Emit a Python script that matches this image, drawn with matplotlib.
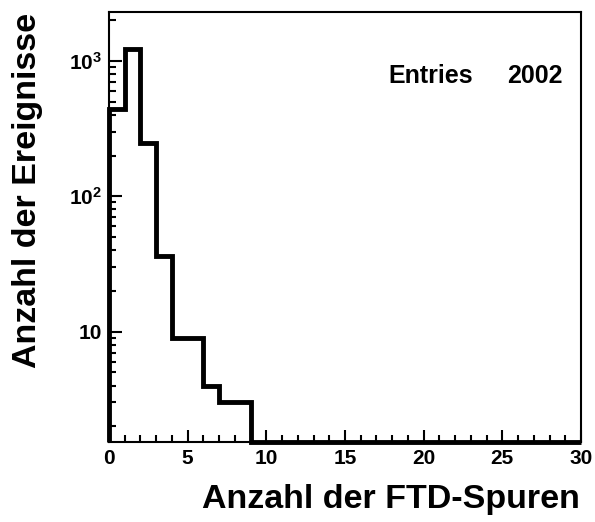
import numpy as np
import matplotlib
matplotlib.use('Agg')
import matplotlib.pyplot as plt
from matplotlib.ticker import FixedLocator, LogLocator, MultipleLocator, NullFormatter

plt.rcParams['font.family'] = 'Liberation Sans'
plt.rcParams['font.weight'] = 'bold'
plt.rcParams['mathtext.fontset'] = 'custom'
plt.rcParams['mathtext.rm'] = 'Liberation Sans:bold'
plt.rcParams['mathtext.bf'] = 'Liberation Sans:bold'
plt.rcParams['mathtext.default'] = 'rm'

# histogram: number of FTD tracks per event
bin_edges = np.arange(0, 31, 1)
counts = [440, 1225, 248, 36, 9, 9, 4, 3, 3] + [0] * 21
entries = 2002

y_min, y_max = 1.53, 2300
y_major = [10, 100, 1000]
y_labels = ['10', r'$10^{2}$', r'$10^{3}$']

fig = plt.figure(figsize=(5.95, 5.22), dpi=100)
ax = fig.add_axes([109 / 595, 1 - 442 / 522, (581 - 109) / 595, (442 - 12) / 522])

# ROOT draws empty bins along the lower frame edge
draw = np.maximum(np.array(counts, dtype=float), y_min)
ax.stairs(draw, bin_edges, baseline=y_min, color='black', linewidth=3.5, clip_on=False, zorder=3)

ax.set_yscale('log')
ax.set_xlim(0, 30)
ax.set_ylim(y_min, y_max)

ax.yaxis.set_major_locator(FixedLocator(y_major))
ax.set_yticklabels(y_labels)
ax.yaxis.set_minor_locator(LogLocator(base=10, subs=np.arange(2, 10)))
ax.yaxis.set_minor_formatter(NullFormatter())
ax.xaxis.set_major_locator(MultipleLocator(5))
ax.xaxis.set_minor_locator(MultipleLocator(1))

ax.tick_params(which='both', direction='in', top=False, right=False, width=1.5, labelsize=15)
ax.tick_params(which='major', length=9, pad=5)
ax.tick_params(which='minor', length=5)
for sp in ax.spines.values():
    sp.set_linewidth(1.5)

fig.text(388 / 595, 1 - 76 / 522, 'Entries', ha='left', va='center', fontsize=18, fontweight='bold')
fig.text(563 / 595, 1 - 76 / 522, f'{entries}', ha='right', va='center', fontsize=18, fontweight='bold')

fig.text(580 / 595, 1 - 508 / 522, 'Anzahl der FTD-Spuren', ha='right', va='baseline',
         fontsize=24.5, fontweight='bold')
fig.text(28 / 595, 1 - 13 / 522, 'Anzahl der Ereignisse', rotation=90, ha='center', va='top',
         fontsize=24.5, fontweight='bold')

fig.savefig('out.png', dpi=100, facecolor='white')
